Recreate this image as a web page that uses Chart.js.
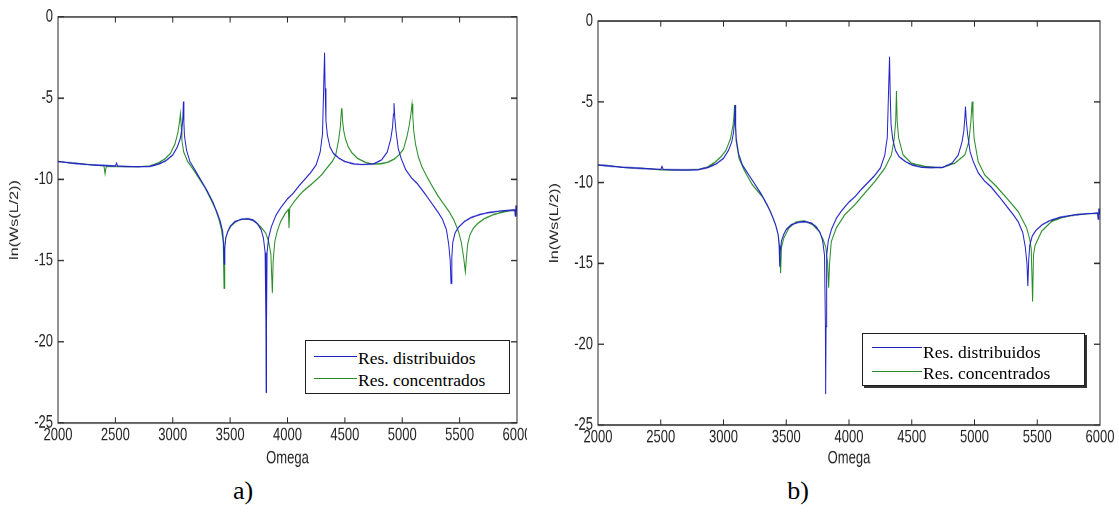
<!DOCTYPE html>
<html>
<head>
<meta charset="utf-8">
<script src="https://cdn.jsdelivr.net/npm/chart.js@4.4.1/dist/chart.umd.min.js"></script>
<style>
  html, body { margin: 0; padding: 0; background: #fff; }
  #page { position: relative; width: 1119px; height: 512px; overflow: hidden; }
  .clip { position: absolute; top: 0; height: 512px; overflow: hidden; }
  /* the source figure is stretched vertically, so the plots are too */
  .plot { position: absolute; left: 0; top: 0; height: 336px; transform: scaleY(1.4); transform-origin: 0 0; }
  .legend { position: absolute; box-sizing: border-box; background: #fff; border: 1px solid #1e1e1e;
            font-family: 'Liberation Serif', 'Times New Roman', serif; font-size: 17.5px; line-height: 20px; color: #000; }
  .legend.shadow { box-shadow: 2px 2px 0 #333; }
  .legend .sw { position: absolute; height: 1px; }
  .legend .tx { position: absolute; white-space: nowrap; }
  .cap { position: absolute; top: 476px; width: 60px; text-align: center;
         font-family: 'Liberation Serif', 'Times New Roman', serif; font-size: 26px; line-height: 30px; }
</style>
</head>
<body>
<div id="page">
  <div class="clip" style="left:0; width:527px;">
    <div class="plot" style="width:540px;"><canvas id="chartA"></canvas></div>
  </div>
  <div class="clip" style="left:540px; width:579px;">
    <div class="plot" style="width:579px;"><canvas id="chartB"></canvas></div>
  </div>
  <div class="cap" style="left:213px;">a)</div>
  <div class="cap" style="left:768px;">b)</div>
</div>
<script>
var S = 1.4;

// Res. distribuidos (same curve in a) and b))
var omega_dist = [2000,2100,2200,2300,2420,2500,2510,2520,2600,2700,
  2800,2880,2940,3000,3040,3065,3080,3088,3093,3097,
  3102,3120,3150,3200,3250,3300,3350,3390,3415,3435,
  3443,3448,3453,3462,3480,3500,3540,3600,3650,3700,
  3740,3770,3790,3805,3812,3814,3817,3822,3835,3860,
  3900,3940,4000,4050,4100,4150,4200,4250,4285,4305,
  4315,4323,4328,4335,4348,4370,4400,4450,4500,4580,
  4650,4750,4820,4870,4900,4915,4923,4928,4935,4945,
  4965,4990,5030,5080,5130,5200,5260,5310,5350,5385,
  5405,5418,5425,5432,5440,5460,5490,5540,5600,5680,
  5750,5850,5950,5980,5985,5990,5995,6000];
var ln_dist = [-8.9,-8.98,-9.05,-9.1,-9.15,-9.18,-9.0,-9.18,-9.2,-9.22,
  -9.2,-9.05,-8.85,-8.5,-8.0,-7.5,-6.9,-6.2,-5.2,-6.5,
  -7.3,-8.2,-8.9,-9.5,-10.1,-10.7,-11.4,-12.1,-12.6,-13.2,
  -13.9,-15.2,-14.2,-13.6,-13.2,-12.9,-12.6,-12.45,-12.42,-12.5,
  -12.75,-13.1,-13.6,-14.5,-18.9,-23.1,-18.9,-14.5,-13.6,-12.9,
  -12.2,-11.75,-11.2,-10.85,-10.4,-10.0,-9.6,-9.1,-8.3,-7.2,
  -4.4,-2.2,-4.4,-6.4,-7.3,-8.0,-8.4,-8.7,-8.9,-9.05,
  -9.08,-9.05,-8.8,-8.3,-7.5,-6.8,-6.0,-5.3,-6.2,-7.0,
  -8.1,-8.7,-9.4,-9.9,-10.25,-10.9,-11.5,-12.0,-12.45,-13.1,
  -14.0,-15.0,-16.4,-14.8,-13.9,-13.3,-12.95,-12.6,-12.35,-12.15,
  -12.05,-11.95,-11.9,-11.88,-12.25,-11.6,-11.9,-11.85];

// Res. concentrados, a)
var omega_concA = [2000,2100,2200,2300,2400,2410,2420,2500,2600,2700,
  2800,2870,2930,2980,3020,3045,3060,3067,3073,3080,
  3095,3130,3180,3230,3280,3330,3370,3400,3425,3440,
  3447,3453,3462,3480,3510,3550,3600,3660,3720,3770,
  3810,3835,3855,3868,3875,3890,3910,3940,3980,4008,
  4013,4020,4060,4100,4140,4200,4256,4300,4343,4390,
  4420,4445,4460,4470,4474,4480,4490,4505,4530,4560,
  4610,4680,4730,4800,4870,4930,4970,5010,5040,5060,
  5075,5085,5092,5100,5115,5140,5170,5220,5260,5310,
  5360,5410,5450,5490,5515,5535,5550,5560,5570,5590,
  5620,5660,5720,5800,5880,5950,6000];
var ln_concA = [-8.9,-8.98,-9.05,-9.1,-9.15,-9.65,-9.2,-9.2,-9.22,-9.22,
  -9.18,-9.0,-8.75,-8.4,-7.8,-7.1,-6.4,-5.95,-6.6,-7.6,
  -8.3,-8.9,-9.4,-9.95,-10.5,-11.2,-11.8,-12.4,-13.1,-13.9,
  -16.7,-14.3,-13.6,-13.2,-12.85,-12.6,-12.45,-12.42,-12.6,-12.95,
  -13.3,-13.8,-14.6,-17.0,-15.0,-13.8,-13.2,-12.6,-12.1,-11.85,
  -13.0,-11.75,-11.35,-11.0,-10.7,-10.35,-10.0,-9.7,-9.3,-8.9,
  -8.5,-7.6,-6.8,-5.7,-5.6,-6.4,-7.0,-7.5,-8.0,-8.35,
  -8.7,-8.95,-9.05,-9.05,-8.95,-8.75,-8.5,-8.15,-7.4,-6.7,
  -6.0,-5.35,-6.1,-7.0,-7.8,-8.6,-9.2,-9.9,-10.4,-11.0,
  -11.5,-12.0,-12.5,-13.2,-13.9,-14.8,-15.7,-14.8,-14.0,-13.4,
  -13.0,-12.7,-12.4,-12.15,-12.0,-11.92,-11.9];

// Res. concentrados, b)
var omega_concB = [2000,2100,2200,2300,2400,2500,2600,2700,2800,2870,
  2930,2980,3020,3055,3075,3083,3088,3093,3100,3123,
  3163,3230,3310,3375,3415,3436,3448,3455,3462,3482,
  3522,3575,3641,3708,3761,3793,3815,3830,3838,3845,
  3859,3899,3965,4045,4125,4205,4285,4338,4360,4372,
  4378,4384,4396,4431,4497,4604,4737,4843,4923,4955,
  4971,4981,4988,4997,5029,5082,5176,5269,5349,5415,
  5440,5452,5463,5470,5482,5535,5615,5700,5800,5900,
  6000];
var ln_concB = [-8.9,-8.98,-9.05,-9.1,-9.15,-9.2,-9.22,-9.22,-9.18,-9.05,
  -8.75,-8.4,-8.0,-7.3,-6.5,-5.9,-5.2,-6.2,-7.4,-8.5,
  -9.2,-10.14,-10.87,-11.8,-12.62,-13.24,-14.0,-15.6,-14.0,-13.4,
  -12.8,-12.45,-12.37,-12.58,-13.0,-13.5,-14.0,-15.0,-16.5,-15.0,
  -13.65,-12.8,-12.0,-11.38,-10.66,-9.94,-9.11,-8.29,-7.3,-6.2,
  -4.33,-6.2,-7.26,-8.29,-8.8,-9.0,-9.07,-8.8,-8.29,-7.46,
  -6.23,-4.99,-6.0,-7.26,-8.7,-9.53,-10.25,-11.07,-11.8,-12.8,
  -13.5,-14.1,-17.36,-14.5,-13.9,-13.0,-12.4,-12.15,-12.0,-11.92,
  -11.9];

var xMin = 2000, xMax = 6000, xStep = 500;
var yMin = -25, yMax = 0, yStep = 5;
var label_dist = 'Res. distribuidos';
var label_conc = 'Res. concentrados';
var xTitle = 'Omega';
var yTitle = 'ln(Ws(L/2))';
var blue = '#2222c8';
var green = '#288c28';

Chart.defaults.font.family = "'Liberation Sans', Arial, sans-serif";
Chart.defaults.color = '#222';

function pts(xs, ys) {
  return xs.map(function(x, i) { return {x: x, y: ys[i]}; });
}

// box round the plot with inward ticks on all four sides
var frame = {
  id: 'frame',
  afterDraw: function(chart) {
    var ctx = chart.ctx, a = chart.chartArea;
    var x = chart.scales.x, y = chart.scales.y;
    ctx.save();
    ctx.strokeStyle = '#262626';
    ctx.lineWidth = 1;
    ctx.strokeRect(a.left, a.top, a.right - a.left, a.bottom - a.top);
    ctx.beginPath();
    x.ticks.forEach(function(t) {
      var px = x.getPixelForValue(t.value);
      ctx.moveTo(px, a.bottom); ctx.lineTo(px, a.bottom - 4);
      ctx.moveTo(px, a.top); ctx.lineTo(px, a.top + 4);
    });
    y.ticks.forEach(function(t) {
      var py = y.getPixelForValue(t.value);
      ctx.moveTo(a.left, py); ctx.lineTo(a.left + 6, py);
      ctx.moveTo(a.right, py); ctx.lineTo(a.right - 6, py);
    });
    ctx.stroke();
    ctx.restore();
  }
};

function makeChart(id, pad, concX, concY) {
  return new Chart(document.getElementById(id), {
    type: 'line',
    data: {
      datasets: [
        { label: label_dist, data: pts(omega_dist, ln_dist), borderColor: blue },
        { label: label_conc, data: pts(concX, concY), borderColor: green }
      ]
    },
    options: {
      responsive: true,
      maintainAspectRatio: false,
      animation: false,
      events: [],
      devicePixelRatio: 2,
      elements: {
        point: { radius: 0 },
        line: { borderWidth: 1, tension: 0 }
      },
      layout: { padding: { top: pad.top, right: pad.right, left: 0, bottom: 0 } },
      plugins: { legend: { display: false }, tooltip: { enabled: false } },
      scales: {
        x: {
          type: 'linear', min: xMin, max: xMax,
          grid: { display: false, drawTicks: false }, border: { display: false },
          ticks: { stepSize: xStep, padding: 1, maxRotation: 0, autoSkip: false,
                   font: { size: 13 }, callback: function(v) { return String(v); } },
          title: { display: true, text: xTitle, font: { size: 13 }, padding: { top: 0, bottom: 1 } },
          afterFit: function(s) { s.height = pad.xh; s.paddingLeft = 0; s.paddingRight = 0; }
        },
        y: {
          min: yMin, max: yMax,
          grid: { display: false, drawTicks: false }, border: { display: false },
          ticks: { stepSize: yStep, padding: 5, font: { size: 13 },
                   callback: function(v) { return String(v); } },
          title: { display: true, text: yTitle, font: { size: 11.5 }, padding: { top: 8, bottom: 0 } },
          afterFit: function(s) { s.width = 58; s.paddingTop = 0; s.paddingBottom = 0; }
        }
      }
    },
    plugins: [frame]
  });
}

function addLegend(chart, spec) {
  var el = document.createElement('div');
  el.className = 'legend' + (spec.shadow ? ' shadow' : '');
  el.style.left = spec.left + 'px';
  el.style.top = spec.top + 'px';
  el.style.width = spec.width + 'px';
  el.style.height = spec.height + 'px';
  chart.data.datasets.forEach(function(ds, i) {
    var sw = document.createElement('div');
    sw.className = 'sw';
    sw.style.left = spec.swX + 'px';
    sw.style.width = spec.swW + 'px';
    sw.style.top = spec.swY[i] + 'px';
    sw.style.background = ds.borderColor;
    var tx = document.createElement('div');
    tx.className = 'tx';
    tx.textContent = ds.label;
    tx.style.left = spec.txX + 'px';
    tx.style.top = spec.txY[i] + 'px';
    el.appendChild(sw);
    el.appendChild(tx);
  });
  document.getElementById('page').appendChild(el);
}

var chartA = makeChart('chartA', { top: 17 / S, right: 23, xh: 336 - 423 / S }, omega_concA, ln_concA);
var chartB = makeChart('chartB', { top: 21 / S, right: 19, xh: 336 - 425 / S }, omega_concB, ln_concB);

addLegend(chartA, { left: 305, top: 340, width: 205, height: 54,
  swX: 8, swW: 43, swY: [15, 37], txX: 52, txY: [7, 29] });
addLegend(chartB, { left: 862, top: 333, width: 223, height: 53, shadow: true,
  swX: 9, swW: 50, swY: [13, 37], txX: 60, txY: [8, 29] });
</script>
</body>
</html>
